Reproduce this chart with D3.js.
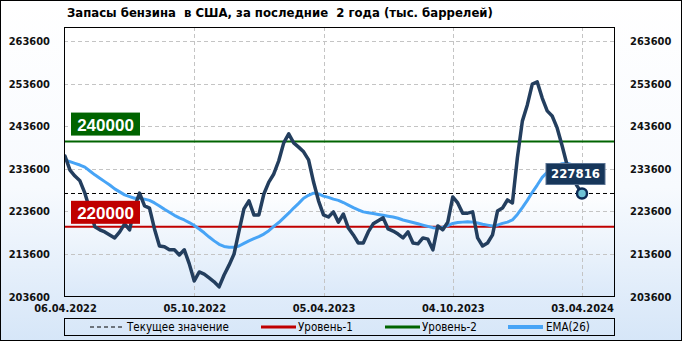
<!DOCTYPE html>
<html><head><meta charset="utf-8">
<script src="https://cdn.jsdelivr.net/npm/d3@7"></script>
<style>html,body{margin:0;padding:0;background:#fff;} svg{display:block}</style>
</head><body><svg id="c" width="682" height="341"></svg>
<script>
const title = "Запасы бензина  в США, за последние  2 года (тыс. баррелей)";
const startDate = "06.04.2022";
const stocks = [236600,233300,231900,230800,227900,224000,220000,219300,218800,218100,
217400,218800,220700,219300,224700,227900,224900,224400,219500,215500,
215300,214600,214600,213400,214600,211300,207300,209400,208900,208000,
207100,205900,208700,211000,213600,219000,224200,226100,222800,222800,
227700,230500,232400,235500,239700,241800,239700,238700,237600,235700,
230500,226100,222800,222300,223500,221100,223000,219700,218100,216200,
216200,218800,220700,221400,222100,219500,219000,218300,217400,218800,
216200,216000,217400,217100,214600,220200,219300,221100,227000,225600,
223200,223200,223500,217400,215500,216200,218100,223700,224400,226300,
225600,236200,244800,248600,253500,254000,250200,247200,246000,243200,
239000,234500,231700,229600,227816];
const ema26 = [235700,235300,234900,234500,234000,233100,232200,231400,230600,229800,
228900,228200,227500,227100,226700,226700,226500,226200,225600,224900,
224100,223400,222700,222100,221600,221000,220300,219500,218600,217600,
216700,215900,215400,215200,215200,215500,216100,216700,217200,217700,
218300,219100,220100,221000,222100,223200,224400,225500,226700,227400,
227900,227700,227200,226900,226500,226200,225700,225100,224500,224000,
223500,223300,223100,222900,222700,222500,222300,222000,221600,221300,
221000,220700,220400,220100,219800,219700,219900,220300,220800,221000,
221100,221200,221100,220900,220600,220400,220200,220400,220800,221100,
221600,222900,224500,226200,228100,229800,231600,232800,233700,234400,
234800,234900,234600,234200,233800];
const currentValue = 227816;
const level1 = 220000;
const level2 = 240000;
const yTicks = [203600,213600,223600,233600,243600,253600,263600];
const xTickLabels = ["06.04.2022","05.10.2022","05.04.2023","04.10.2023","03.04.2024"];
const legendLabels = ["Текущее значение","Уровень-1","Уровень-2","EMA(26)"];

const FONT = '"DejaVu Sans Condensed","DejaVu Sans",sans-serif';
const parse = d3.timeParse("%d.%m.%Y");
const t0 = parse(startDate);
const dates = stocks.map((d,i)=>d3.timeDay.offset(t0, 7*i));
const tickDates = xTickLabels.map(parse);

const svg = d3.select("#c");
const defs = svg.append("defs");
const g1 = defs.append("linearGradient").attr("id","bg").attr("x1",0).attr("y1",0).attr("x2",0).attr("y2",1);
g1.append("stop").attr("offset","0").attr("stop-color","#ffffff");
g1.append("stop").attr("offset","0.55").attr("stop-color","#f7fafe");
g1.append("stop").attr("offset","1").attr("stop-color","#d6e6f8");
const g2 = defs.append("linearGradient").attr("id","pbg").attr("x1",0).attr("y1",0).attr("x2",0).attr("y2",1);
g2.append("stop").attr("offset","0").attr("stop-color","#ffffff");
g2.append("stop").attr("offset","0.6").attr("stop-color","#ffffff");
g2.append("stop").attr("offset","1").attr("stop-color","#dbe9f9");

const P = {l:64, t:27, r:615, b:297};
defs.append("clipPath").attr("id","clip").append("rect")
  .attr("x",P.l).attr("y",P.t).attr("width",P.r-P.l).attr("height",P.b-P.t);

svg.append("rect").attr("x",0.5).attr("y",0.5).attr("width",681).attr("height",340)
  .attr("fill","url(#bg)").attr("stroke","#000");
svg.append("rect").attr("x",P.l+0.5).attr("y",P.t+0.5).attr("width",P.r-P.l-1).attr("height",P.b-P.t-1)
  .attr("fill","url(#pbg)");

const x = d3.scaleTime().domain([tickDates[0], tickDates[4]]).range([65, 582]);
const y = d3.scaleLinear().domain([203600, 263600]).range([296.7, 41]);

// grid
const grid = svg.append("g").attr("clip-path","url(#clip)");
grid.selectAll("line.h").data(yTicks.slice(1)).join("line")
  .attr("x1",P.l).attr("x2",P.r).attr("y1",d=>Math.round(y(d))+0.5).attr("y2",d=>Math.round(y(d))+0.5)
  .attr("stroke","#c4c4c4").attr("stroke-dasharray","4,3");
grid.selectAll("line.v").data(tickDates.slice(1)).join("line")
  .attr("y1",P.t).attr("y2",P.b).attr("x1",d=>Math.round(x(d))+0.5).attr("x2",d=>Math.round(x(d))+0.5)
  .attr("stroke","#c4c4c4").attr("stroke-dasharray","4,3");

// axes labels
const yl = d3.axisLeft(y).tickValues(yTicks).tickSize(0).tickFormat(d3.format("d"));
const yr = d3.axisRight(y).tickValues(yTicks).tickSize(0).tickFormat(d3.format("d"));
const xa = d3.axisBottom(x).tickValues(tickDates).tickSize(0).tickFormat(d3.timeFormat("%d.%m.%Y"));
function styleAxis(sel){
  sel.select(".domain").remove();
  sel.selectAll("text").attr("font-family",FONT).attr("font-size","11px").attr("font-weight","bold").attr("fill","#111");
}
svg.append("g").attr("transform","translate(53,0)").call(yl).call(styleAxis);
svg.append("g").attr("transform","translate(627,0)").call(yr).call(styleAxis);
svg.append("g").attr("transform","translate(0,301)").call(xa).call(styleAxis);

// plot content
const plot = svg.append("g").attr("clip-path","url(#clip)");
plot.append("line").attr("x1",P.l).attr("x2",P.r).attr("y1",y(currentValue)).attr("y2",y(currentValue))
  .attr("stroke","#000").attr("stroke-dasharray","4,3");
plot.append("line").attr("x1",P.l).attr("x2",P.r).attr("y1",y(level1)).attr("y2",y(level1))
  .attr("stroke","#c00000").attr("stroke-width",2);
plot.append("line").attr("x1",P.l).attr("x2",P.r).attr("y1",y(level2)).attr("y2",y(level2))
  .attr("stroke","#006400").attr("stroke-width",2);

const line = d3.line().x((d,i)=>x(dates[i])).y(d=>y(d)).curve(d3.curveLinear);
plot.append("path").datum(ema26).attr("d",line).attr("fill","none")
  .attr("stroke","#47a4f6").attr("stroke-width",3).attr("stroke-linejoin","round");
plot.append("path").datum(stocks).attr("d",line).attr("fill","none")
  .attr("stroke","#233e5e").attr("stroke-width",3.5).attr("stroke-linejoin","round").attr("stroke-linecap","round");

// level labels
function levelLabel(v, color, dy){
  const yy = y(v) - dy;
  svg.append("rect").attr("x",71).attr("y",yy).attr("width",69).attr("height",23).attr("fill",color);
  svg.append("text").attr("x",105.5).attr("y",yy+18).attr("text-anchor","middle")
    .attr("font-family","Liberation Sans, Arial, sans-serif").attr("font-weight","bold").attr("font-size","17px")
    .attr("fill","#fff").text(d3.format("d")(v));
}
levelLabel(level2, "#006400", 29);
levelLabel(level1, "#c00000", 26);

// frame
svg.append("rect").attr("x",P.l+0.5).attr("y",P.t+0.5).attr("width",P.r-P.l-1).attr("height",P.b-P.t-1)
  .attr("fill","none").attr("stroke","#000");

// end point & value label
const lx = x(dates[dates.length-1]), ly = y(stocks[stocks.length-1]);
svg.append("rect").attr("x",lx-36).attr("y",ly-30).attr("width",59).attr("height",21)
  .attr("fill","#17365a").attr("stroke","#5a7392").attr("stroke-width",1);
svg.append("text").attr("x",lx-6.5).attr("y",ly-15).attr("text-anchor","middle")
  .attr("font-family",FONT).attr("font-weight","bold").attr("font-size","13px").attr("fill","#fff")
  .text(d3.format("d")(currentValue));
svg.append("circle").attr("cx",lx).attr("cy",ly).attr("r",5).attr("fill","#6fc3d6")
  .attr("stroke","#0c2a55").attr("stroke-width",2.5);

// title
svg.append("text").attr("x",67).attr("y",17).attr("font-family",FONT).attr("font-weight","bold")
  .attr("font-size","13px").attr("fill","#000").attr("xml:space","preserve").style("white-space","pre").text(title);

// legend
const L = svg.append("g");
L.append("rect").attr("x",64.5).attr("y",318.5).attr("width",550).attr("height",17).attr("fill","none").attr("stroke","#000");
const items = [
  {x1:90,x2:122,tx:127,color:"#000",w:1,dash:"4,3"},
  {x1:261,x2:296,tx:298,color:"#c00000",w:3,dash:null},
  {x1:385,x2:420,tx:422,color:"#006400",w:3,dash:null},
  {x1:508,x2:543,tx:546,color:"#47a4f6",w:4,dash:null}
];
items.forEach((it,i)=>{
  L.append("line").attr("x1",it.x1).attr("x2",it.x2).attr("y1",327).attr("y2",327)
    .attr("stroke",it.color).attr("stroke-width",it.w).attr("stroke-dasharray",it.dash);
  L.append("text").attr("x",it.tx).attr("y",331).attr("font-family",FONT).attr("font-size","11.5px")
    .attr("fill","#000").text(legendLabels[i]);
});
</script></body></html>
